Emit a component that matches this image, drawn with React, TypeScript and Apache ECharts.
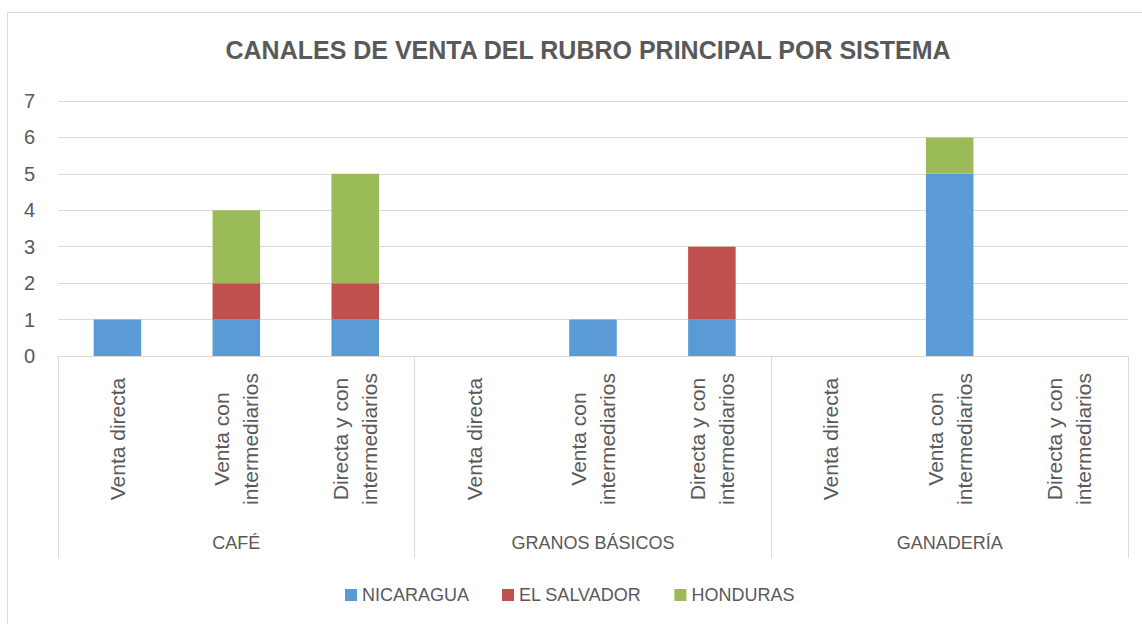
import React, { useEffect, useRef } from "react";
import * as echarts from "echarts";

const categories = [
  "Venta directa", "Venta con\nintermediarios", "Directa y con\nintermediarios",
  "Venta directa", "Venta con\nintermediarios", "Directa y con\nintermediarios",
  "Venta directa", "Venta con\nintermediarios", "Directa y con\nintermediarios",
];
const groups = ["CAFÉ", "GRANOS BÁSICOS", "GANADERÍA"];
const nicaragua = [1, 1, 1, 0, 1, 1, 0, 5, 0];
const elSalvador = [0, 1, 1, 0, 0, 2, 0, 0, 0];
const honduras = [0, 2, 3, 0, 0, 0, 0, 1, 0];
const yTicks = [0, 1, 2, 3, 4, 5, 6, 7];

const FONT = "Liberation Sans";
const TXT = "#595959";
const LINE = "#d9d9d9";

export default function App() {
  const ref = useRef<HTMLDivElement>(null);
  useEffect(() => {
    const chart = echarts.init(ref.current!, null, { renderer: "svg" });
    const clean = (a: number[]) => a.map((v) => (v === 0 ? null : v));
    chart.setOption({
      animation: false,
      backgroundColor: "#ffffff",
      textStyle: { fontFamily: FONT },
      title: {
        text: "CANALES DE VENTA DEL RUBRO PRINCIPAL POR SISTEMA",
        left: 583,
        textAlign: "center",
        top: 32,
        textStyle: { fontFamily: FONT, fontSize: 25, fontWeight: "bold", color: TXT },
      },
      graphic: [
        {
          type: "rect",
          shape: { x: 7.5, y: 12.5, width: 1160, height: 640 },
          style: { fill: "none", stroke: LINE, lineWidth: 1 },
          silent: true,
          z: -1,
        },
      ],
      legend: {
        top: 581,
        left: 340,
        itemWidth: 12,
        itemHeight: 12,
        itemGap: 33,
        icon: "rect",
        textStyle: { fontFamily: FONT, fontSize: 18, color: TXT },
        data: ["NICARAGUA", "EL SALVADOR", "HONDURAS"],
      },
      grid: { left: 58, right: 14, top: 101, bottom: 268, containLabel: false },
      xAxis: [
        {
          type: "category",
          data: categories,
          axisLine: { show: true, lineStyle: { color: LINE, width: 1 } },
          axisTick: { show: false },
          axisLabel: {
            interval: 0,
            rotate: 90,
            align: "center",
            verticalAlign: "middle",
            margin: 83,
            lineHeight: 29,
            fontFamily: FONT,
            fontSize: 21,
            color: TXT,
          },
        },
        {
          type: "category",
          data: groups,
          position: "bottom",
          axisLine: { show: false },
          axisTick: { show: true, length: 202, lineStyle: { color: LINE, width: 1 } },
          axisLabel: {
            interval: 0,
            margin: 178,
            fontFamily: FONT,
            fontSize: 18,
            color: TXT,
          },
        },
      ],
      yAxis: {
        type: "value",
        min: 0,
        max: 7,
        interval: 1,
        axisLine: { show: false },
        axisTick: { show: false },
        splitLine: { lineStyle: { color: LINE, width: 1 } },
        axisLabel: {
          margin: 23,
          fontFamily: FONT,
          fontSize: 20,
          color: TXT,
          formatter: (v: number) => (yTicks.includes(v) ? String(v) : ""),
        },
      },
      series: [
        { name: "NICARAGUA", type: "bar", stack: "s", barWidth: "40%", itemStyle: { color: "#5B9BD5" }, data: clean(nicaragua) },
        { name: "EL SALVADOR", type: "bar", stack: "s", barWidth: "40%", itemStyle: { color: "#C0504D" }, data: clean(elSalvador) },
        { name: "HONDURAS", type: "bar", stack: "s", barWidth: "40%", itemStyle: { color: "#9BBB59" }, data: clean(honduras) },
      ],
    });
    return () => chart.dispose();
  }, []);
  return (
    <div
      ref={ref}
      style={{ position: "fixed", left: 0, top: 0, width: 1142, height: 624 }}
    />
  );
}
